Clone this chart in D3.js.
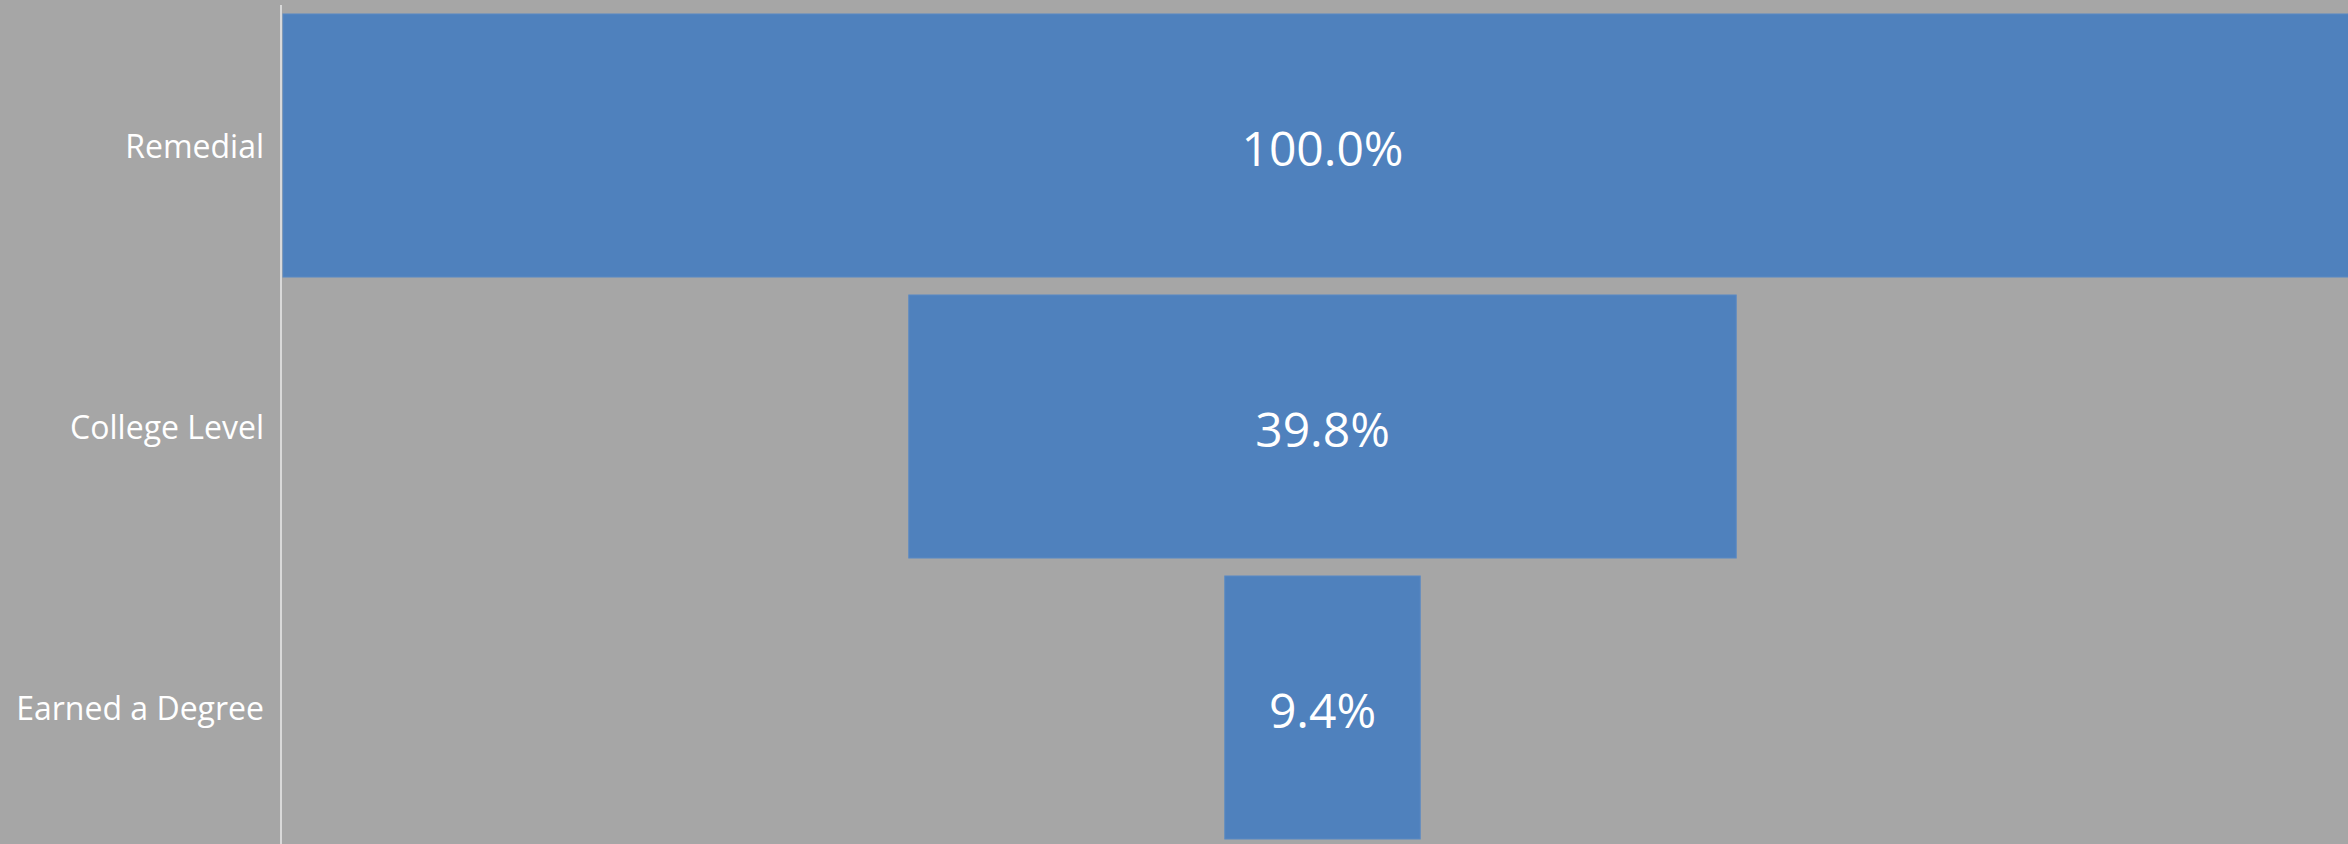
<!DOCTYPE html>
<html lang="en">
  <head>
    <meta charset="UTF-8" />
    <meta name="viewport" content="width=device-width, initial-scale=1.0" />
    <title>funnel</title>
    <script src="https://cdn.jsdelivr.net/npm/d3@7/dist/d3.min.js"></script>
    <style>
      html, body { margin: 0; padding: 0; background: #a6a6a6; overflow: hidden; }
      svg { display: block; }
    </style>
  </head>
  <body>
    <div id="wrapper"></div>
    <script>
      // stages of the funnel, top to bottom
      const categories = ["Remedial", "College Level", "Earned a Degree"];
      // share of students reaching each stage
      const shares = [1.0, 0.398, 0.094];

      // funnel = stacked bar with an invisible spacer on the left
      const maxShare = d3.max(shares);
      const dataset = categories.map((c, i) => ({
        category: c,
        share: shares[i],
        spacer: (maxShare - shares[i]) / 2,
      }));

      const dimensions = {
        width: 2348,
        height: 844,
        margin: { left: 283, right: -14, top: 5, bottom: -4 },
      };
      dimensions.boundedWidth =
        dimensions.width - dimensions.margin.left - dimensions.margin.right;
      dimensions.boundedHeight =
        dimensions.height - dimensions.margin.top - dimensions.margin.bottom;

      function drawFunnel(wrapper, dimensions, dataset) {
        const svg = wrapper
          .append("svg")
          .attr("width", dimensions.width)
          .attr("height", dimensions.height);

        svg.append("rect")
          .attr("width", dimensions.width)
          .attr("height", dimensions.height)
          .attr("fill", "#a6a6a6");

        const bounds = svg
          .append("g")
          .attr("transform", `translate(${dimensions.margin.left},${dimensions.margin.top})`);

        const xScale = d3.scaleLinear()
          .domain([0, maxShare])
          .range([0, dimensions.boundedWidth]);

        const yScale = d3.scaleBand()
          .domain(categories)
          .range([0, dimensions.boundedHeight])
          .paddingInner(0.064)
          .paddingOuter(0.032);

        bounds.selectAll("rect.bar")
          .data(dataset)
          .join("rect")
          .attr("class", "bar")
          .attr("x", d => xScale(d.spacer))
          .attr("y", d => yScale(d.category))
          .attr("width", d => xScale(d.spacer + d.share) - xScale(d.spacer))
          .attr("height", yScale.bandwidth())
          .attr("fill", "#4f81bd")
          .attr("stroke", "#5a8ac4")
          .attr("stroke-width", 1);

        const fmt = d3.format(".1%");
        bounds.selectAll("text.value")
          .data(dataset)
          .join("text")
          .attr("class", "value")
          .attr("x", d => xScale(d.spacer + d.share / 2))
          .attr("y", d => yScale(d.category) + yScale.bandwidth() / 2 + 2)
          .attr("text-anchor", "middle")
          .attr("dominant-baseline", "central")
          .attr("fill", "#ffffff")
          .style("font-family", "'Open Sans', sans-serif")
          .style("font-size", "48px")
          .text(d => fmt(d.share));

        const yAxis = bounds.append("g")
          .call(d3.axisLeft(yScale).tickSize(0).tickPadding(19));
        yAxis.select(".domain").remove();
        yAxis.selectAll("text")
          .attr("fill", "#ffffff")
          .attr("dy", "0.38em")
          .style("font-family", "'Open Sans', sans-serif")
          .style("font-size", "32px");

        // vertical category axis line
        bounds.append("line")
          .attr("x1", xScale(0) - 2)
          .attr("x2", xScale(0) - 2)
          .attr("y1", 0)
          .attr("y2", dimensions.height)
          .attr("stroke", "#d9d9d9")
          .attr("stroke-width", 2);
      }

      drawFunnel(d3.select("#wrapper"), dimensions, dataset);
    </script>
  </body>
</html>
